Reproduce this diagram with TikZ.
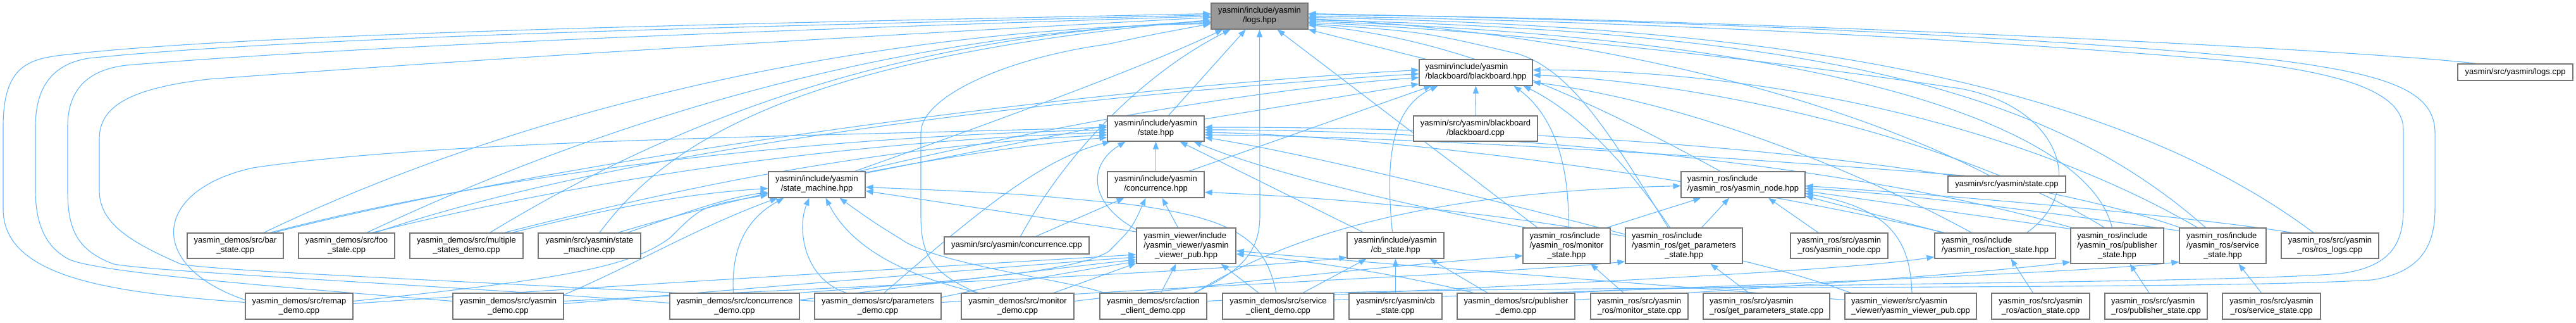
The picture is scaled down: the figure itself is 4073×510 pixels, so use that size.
\documentclass[tikz,border=0pt]{standalone}
\usepackage{fontspec}
\setmainfont{Liberation Sans}
\usetikzlibrary{arrows.meta,calc}
\definecolor{edgec}{HTML}{63B8FF}
\definecolor{boxc}{HTML}{777777}
\definecolor{rootc}{HTML}{999999}
\newcommand{\twol}[2]{\begin{tabular}{@{}l@{}}#1\\\multicolumn{1}{@{}c@{}}{#2}\end{tabular}}
\newcommand{\threel}[3]{\begin{tabular}{@{}l@{}}#1\\#2\\\multicolumn{1}{@{}c@{}}{#3}\end{tabular}}
\pgfdeclarelayer{bg}
\pgfdeclarelayer{paper}
\pgfsetlayers{paper,bg,main}
\begin{document}
\begin{tikzpicture}[x=1pt,y=-1pt,
  box/.style={draw=boxc, line width=1.2pt, fill=white, inner sep=0pt, text=black, font=\fontsize{13}{15}\selectfont},
  e/.style={draw=edgec, line width=1.1pt, -{Triangle[length=12pt,width=9pt]}}]
\begin{pgfonlayer}{paper}
\fill[white] (0,0) rectangle (4073,510);
\end{pgfonlayer}
\useasboundingbox (0,0) rectangle (4073,510);
% ---------- nodes ----------
\node[box, fill=rootc, minimum width=153pt, minimum height=41pt] (logs) at (1991.5,25.5) {\twol{yasmin/include/yasmin}{/logs.hpp}};
\node[box, minimum width=179pt, minimum height=41pt] (bb) at (2333.5,114.5) {\twol{yasmin/include/yasmin}{/blackboard/blackboard.hpp}};
\node[box, minimum width=196pt, minimum height=40pt] (bbc) at (2333,203) {\twol{yasmin/src/yasmin/blackboard}{/blackboard.cpp}};
\node[box, minimum width=153pt, minimum height=40pt] (state) at (1827.5,203) {\twol{yasmin/include/yasmin}{/state.hpp}};
\node[box, minimum width=153pt, minimum height=41pt] (conch) at (1827.5,291.5) {\twol{yasmin/include/yasmin}{/concurrence.hpp}};
\node[box, minimum width=153pt, minimum height=41pt] (sm) at (1291.5,291.5) {\twol{yasmin/include/yasmin}{/state\_machine.hpp}};
\node[box, minimum width=157pt, minimum height=56pt] (vpub) at (1875.5,388) {\threel{yasmin\_viewer/include}{/yasmin\_viewer/yasmin}{\_viewer\_pub.hpp}};
\node[box, minimum width=229pt, minimum height=27pt] (concc) at (1607.5,387.5) {yasmin/src/yasmin/concurrence.cpp};
\node[box, minimum width=153pt, minimum height=41pt] (cb) at (2206.5,387.5) {\twol{yasmin/include/yasmin}{/cb\_state.hpp}};
\node[box, minimum width=196pt, minimum height=41pt] (node) at (2756,291.5) {\twol{yasmin\_ros/include}{/yasmin\_ros/yasmin\_node.hpp}};
\node[box, minimum width=138pt, minimum height=56pt] (mon) at (2477,388) {\threel{yasmin\_ros/include}{/yasmin\_ros/monitor}{\_state.hpp}};
\node[box, minimum width=185pt, minimum height=56pt] (getp) at (2662.5,388) {\threel{yasmin\_ros/include}{/yasmin\_ros/get\_parameters}{\_state.hpp}};
\node[box, minimum width=154pt, minimum height=40pt] (nodec) at (2908,388) {\twol{yasmin\_ros/src/yasmin}{\_ros/yasmin\_node.cpp}};
\node[box, minimum width=186pt, minimum height=26pt] (statec) at (3173,291) {yasmin/src/yasmin/state.cpp};
\node[box, minimum width=191pt, minimum height=40pt] (act) at (3154.5,388) {\twol{yasmin\_ros/include}{/yasmin\_ros/action\_state.hpp}};
\node[box, minimum width=147pt, minimum height=56pt] (pub) at (3347.5,388) {\threel{yasmin\_ros/include}{/yasmin\_ros/publisher}{\_state.hpp}};
\node[box, minimum width=137pt, minimum height=56pt] (srv) at (3514.5,388) {\threel{yasmin\_ros/include}{/yasmin\_ros/service}{\_state.hpp}};
\node[box, minimum width=154pt, minimum height=40pt] (roslogs) at (3684,388) {\twol{yasmin\_ros/src/yasmin}{\_ros/ros\_logs.cpp}};
\node[box, minimum width=182pt, minimum height=26pt] (logsc) at (3977,114) {yasmin/src/yasmin/logs.cpp};
\node[box, minimum width=152pt, minimum height=40pt] (bar) at (372,388) {\twol{yasmin\_demos/src/bar}{\_state.cpp}};
\node[box, minimum width=152pt, minimum height=40pt] (foo) at (548,388) {\twol{yasmin\_demos/src/foo}{\_state.cpp}};
\node[box, minimum width=179pt, minimum height=40pt] (multi) at (737.5,388) {\twol{yasmin\_demos/src/multiple}{\_states\_demo.cpp}};
\node[box, minimum width=162pt, minimum height=40pt] (smc) at (932,388) {\twol{yasmin/src/yasmin/state}{\_machine.cpp}};
\node[box, minimum width=170pt, minimum height=41pt] (remap) at (473,483.5) {\twol{yasmin\_demos/src/remap}{\_demo.cpp}};
\node[box, minimum width=175pt, minimum height=41pt] (ydemo) at (803.5,483.5) {\twol{yasmin\_demos/src/yasmin}{\_demo.cpp}};
\node[box, minimum width=205pt, minimum height=41pt] (concd) at (1161.5,483.5) {\twol{yasmin\_demos/src/concurrence}{\_demo.cpp}};
\node[box, minimum width=200pt, minimum height=41pt] (paramd) at (1388,483.5) {\twol{yasmin\_demos/src/parameters}{\_demo.cpp}};
\node[box, minimum width=178pt, minimum height=41pt] (mond) at (1609,483.5) {\twol{yasmin\_demos/src/monitor}{\_demo.cpp}};
\node[box, minimum width=169pt, minimum height=41pt] (actd) at (1823.5,483.5) {\twol{yasmin\_demos/src/action}{\_client\_demo.cpp}};
\node[box, minimum width=176pt, minimum height=41pt] (srvd) at (2021,483.5) {\twol{yasmin\_demos/src/service}{\_client\_demo.cpp}};
\node[box, minimum width=147pt, minimum height=41pt] (cbc) at (2206.5,483.5) {\twol{yasmin/src/yasmin/cb}{\_state.cpp}};
\node[box, minimum width=186pt, minimum height=41pt] (pubd) at (2397,483.5) {\twol{yasmin\_demos/src/publisher}{\_demo.cpp}};
\node[box, minimum width=154pt, minimum height=41pt] (monc) at (2592,483.5) {\twol{yasmin\_ros/src/yasmin}{\_ros/monitor\_state.cpp}};
\node[box, minimum width=200pt, minimum height=41pt] (getpc) at (2793,483.5) {\twol{yasmin\_ros/src/yasmin}{\_ros/get\_parameters\_state.cpp}};
\node[box, minimum width=208pt, minimum height=41pt] (vpubc) at (3021,483.5) {\twol{yasmin\_viewer/src/yasmin}{\_viewer/yasmin\_viewer\_pub.cpp}};
\node[box, minimum width=155pt, minimum height=41pt] (actc) at (3226.5,483.5) {\twol{yasmin\_ros/src/yasmin}{\_ros/action\_state.cpp}};
\node[box, minimum width=162pt, minimum height=41pt] (pubc) at (3409,483.5) {\twol{yasmin\_ros/src/yasmin}{\_ros/publisher\_state.cpp}};
\node[box, minimum width=155pt, minimum height=41pt] (srvc) at (3591.5,483.5) {\twol{yasmin\_ros/src/yasmin}{\_ros/service\_state.cpp}};
% ---------- edges ----------
\begin{pgfonlayer}{bg}
% to logs.hpp
\draw[e] ($(bar.north)+(45,0)$) .. controls (850,160) and (1400,45) .. ($(logs.west)+(0,12)$);
\draw[e] ($(foo.north)+(32,0)$) .. controls (1000,170) and (1450,50) .. ($(logs.west)+(0,10)$);
\draw[e] ($(multi.north)+(37,0)$) .. controls (1100,170) and (1450,55) .. ($(logs.west)+(0,8)$);
\draw[e] ($(smc.north)+(16,0)$) .. controls (1050,230) and (1250,90) .. ($(logs.west)+(0,6)$);
\draw[e] ($(remap.west)+(0,-6)$) .. controls (180,462) and (5,440) .. (5,330) -- (5,200) .. controls (5,110) and (40,95) .. (90,88) .. controls (400,50) and (1300,35) .. ($(logs.west)+(0,-4)$);
\draw[e] ($(ydemo.west)+(0,-8)$) .. controls (400,450) and (160,430) .. (110,410) .. controls (70,390) and (56,350) .. (56,300) -- (56,200) .. controls (56,130) and (90,100) .. (140,92) .. controls (500,55) and (1300,40) .. ($(logs.west)+(0,-2)$);
\draw[e] ($(concd.west)+(0,-5)$) .. controls (700,450) and (250,430) .. (180,417) .. controls (120,395) and (107,360) .. (107,300) -- (107,200) .. controls (107,140) and (140,110) .. (200,103) .. controls (600,70) and (1300,45) .. (logs.west);
\draw[e] ($(paramd.west)+(0,-8)$) .. controls (900,450) and (350,430) .. (286,417) .. controls (200,380) and (157,350) .. (157,300) -- (157,220) .. controls (157,170) and (200,140) .. (330,125) .. controls (800,90) and (1400,55) .. ($(logs.west)+(0,2)$);
\draw[e] ($(mond.north)+(-64,0)$) .. controls (1470,430) and (1456,400) .. (1456,340) -- (1456,210) .. controls (1456,150) and (1600,90) .. (1750,70) .. controls (1820,55) .. ($(logs.west)+(0,12)$);
\draw[e] ($(sm.north)+(60,0)$) .. controls (1550,200) and (1800,110) .. ($(logs.south)+(-58,0)$);
\draw[e] ($(state.north)+(20,0)$) -- ($(logs.south)+(-22,0)$);
\draw[e] ($(concc.north)+(6,0)$) .. controls (1680,250) and (1800,120) .. ($(logs.south)+(-46,0)$);
\draw[e] ($(actd.north)+(64,0)$) .. controls (1960,430) and (1992,400) .. (1992,340) -- (logs.south);
\draw[e] ($(mon.north)+(-46,0)$) -- ($(logs.south)+(28,0)$);
\draw[e] ($(bb.north)+(-79,0)$) -- (logs.south east);
\draw[e] ($(getp.north)+(-25,0)$) .. controls (2540,200) and (2480,110) .. (2400,85) .. controls (2250,50) .. ($(logs.east)+(0,12)$);
\draw[e] ($(act.north)+(50,0)$) .. controls (3300,300) and (3260,170) .. (3100,140) .. controls (2700,80) and (2300,45) .. ($(logs.east)+(0,10)$);
\draw[e] ($(pub.north)+(-8,0)$) .. controls (3300,200) and (2900,60) .. ($(logs.east)+(0,8)$);
\draw[e] ($(srv.north)+(-27,0)$) .. controls (3250,150) and (2900,50) .. ($(logs.east)+(0,6)$);
\draw[e] ($(statec.north)+(-27,0)$) .. controls (2900,150) and (2500,50) .. ($(logs.east)+(0,4)$);
\draw[e] ($(roslogs.north)+(-26,0)$) .. controls (3300,100) and (2700,40) .. ($(logs.east)+(0,2)$);
\draw[e] ($(logsc.north)+(-61,0)$) .. controls (3700,75) and (2600,25) .. ($(logs.east)+(0,-2)$);
\draw[e] ($(node.north)+(-36,0)$) .. controls (2500,150) and (2300,60) .. ($(logs.east)+(0,14)$);
\draw[e] ($(pubd.north)+(88,0)$) .. controls (2700,447) and (3500,448) .. (3700,432) .. controls (3775,422) and (3800,390) .. (3800,330) -- (3800,205) .. controls (3800,150) and (3720,118) .. (3550,98) .. controls (3000,50) and (2400,30) .. (logs.east);
\draw[e] ($(srvd.north)+(86,0)$) .. controls (2500,450) and (3500,458) .. (3750,442) .. controls (3830,430) and (3850,385) .. (3850,330) -- (3850,210) .. controls (3850,145) and (3780,118) .. (3600,95) .. controls (3100,45) and (2400,28) .. ($(logs.east)+(0,-4)$);
% to blackboard.hpp
\draw[e] ($(state.east)+(0,-15)$) -- ($(bb.west)+(0,18)$);
\draw[e] ($(sm.north east)+(-10,0)$) .. controls (1700,190) and (2000,140) .. ($(bb.west)+(0,8)$);
\draw[e] ($(foo.north)+(45,0)$) .. controls (1000,230) and (1700,150) .. ($(bb.west)+(0,2)$);
\draw[e] ($(bar.north)+(60,0)$) .. controls (900,250) and (1700,140) .. ($(bb.west)+(0,-4)$);
\draw[e] ($(conch.north)+(52,0)$) -- ($(bb.south)+(-70,0)$);
\draw[e] ($(cb.north)+(-5,0)$) .. controls (2190,250) and (2200,170) .. ($(bb.south)+(-60,0)$);
\draw[e] ($(mon.north)+(3,0)$) .. controls (2482,230) and (2440,170) .. ($(bb.south)+(60,0)$);
\draw[e] ($(getp.north)+(-22,0)$) .. controls (2560,240) and (2480,170) .. ($(bb.south)+(75,0)$);
\draw[e] (bbc.north) -- (bb.south);
\draw[e] ($(act.north)+(-37,0)$) .. controls (2900,250) and (2650,160) .. ($(bb.east)+(0,15)$);
\draw[e] ($(pub.north)+(-20,0)$) .. controls (3100,220) and (2700,130) .. ($(bb.east)+(0,4)$);
\draw[e] ($(srv.north)+(-40,0)$) .. controls (3200,200) and (2800,110) .. ($(bb.east)+(0,-4)$);
% to state.hpp
\draw[e] ($(sm.north east)+(0,3)$) -- ($(state.west)+(0,-5)$);
\draw[e] (conch.north) -- (state.south);
\draw[e] ($(vpub.north west)+(0,3)$) .. controls (1720,320) and (1720,260) .. ($(state.south)+(-48,0)$);
\draw[e] ($(cb.north)+(-52,0)$) -- ($(state.south)+(38,0)$);
\draw[e] ($(mon.north west)+(5,0)$) .. controls (2200,320) and (2000,270) .. ($(state.south)+(60,0)$);
\draw[e] ($(getp.west)+(0,-18)$) .. controls (2300,300) and (2050,240) .. ($(state.east)+(0,14)$);
\draw[e] ($(act.north)+(-80,0)$) .. controls (2700,280) and (2200,215) .. ($(state.east)+(0,6)$);
\draw[e] ($(pub.north west)+(2,0)$) .. controls (2900,250) and (2300,205) .. ($(state.east)+(0,2)$);
\draw[e] ($(srv.north west)+(2,0)$) .. controls (3100,240) and (2400,200) .. ($(state.east)+(0,-2)$);
\draw[e] ($(statec.north west)+(28,0)$) .. controls (2700,245) and (2200,215) .. ($(state.east)+(0,10)$);
\draw[e] ($(bar.north)+(55,0)$) .. controls (800,270) and (1300,215) .. ($(state.west)+(0,2)$);
\draw[e] ($(foo.north)+(40,0)$) .. controls (900,290) and (1300,225) .. ($(state.west)+(0,6)$);
\draw[e] ($(multi.north)+(60,0)$) .. controls (1100,290) and (1400,230) .. ($(state.west)+(0,10)$);
\draw[e] ($(smc.north)+(45,0)$) .. controls (1200,300) and (1500,240) .. ($(state.west)+(0,14)$);
\draw[e] ($(remap.west)+(0,-10)$) .. controls (230,420) and (240,300) .. (400,265) .. controls (700,220) and (1300,215) .. ($(state.west)+(0,-2)$);
\draw[e] ($(paramd.north)+(10,0)$) .. controls (1550,330) and (1650,250) .. ($(state.south west)+(5,0)$);
% to state_machine.hpp
\draw[e] ($(smc.north)+(60,0)$) .. controls (1100,330) and (1150,312) .. ($(sm.west)+(0,12)$);
\draw[e] ($(multi.north)+(72,0)$) .. controls (1000,320) and (1100,305) .. ($(sm.west)+(0,6)$);
\draw[e] ($(remap.east)+(0,-8)$) .. controls (900,440) and (1000,420) .. (1060,375) .. controls (1110,325) .. ($(sm.west)+(0,16)$);
\draw[e] ($(ydemo.north east)+(0,3)$) .. controls (1000,420) and (1100,360) .. ($(sm.south west)+(15,0)$);
\draw[e] ($(concd.north)+(-2,0)$) .. controls (1155,380) and (1190,340) .. ($(sm.south west)+(25,0)$);
\draw[e] ($(paramd.north)+(-50,0)$) .. controls (1270,440) and (1260,360) .. ($(sm.south)+(-12,0)$);
\draw[e] ($(mond.north)+(-62,0)$) .. controls (1450,440) and (1350,400) .. ($(sm.south)+(14,0)$);
\draw[e] ($(actd.north)+(-78,0)$) .. controls (1700,445) and (1500,420) .. (1433,383) .. controls (1380,350) .. ($(sm.south)+(36,0)$);
\draw[e] ($(vpub.west)+(0,-22)$) -- ($(sm.east)+(0,10)$);
\draw[e] ($(srvd.north)+(-3,0)$) .. controls (2000,380) and (1960,345) .. (1780,322) .. controls (1600,305) .. ($(sm.east)+(0,4)$);
% to concurrence.hpp
\draw[e] ($(vpub.north)+(-13,0)$) -- ($(conch.south)+(10,0)$);
\draw[e] ($(concc.north)+(30,0)$) -- ($(conch.south)+(-50,0)$);
\draw[e] ($(concd.north east)+(-2,0)$) .. controls (1500,445) and (1700,430) .. (1753,397) .. controls (1790,360) .. ($(conch.south)+(-16,0)$);
\draw[e] ($(vpubc.north west)+(10,0)$) .. controls (2700,380) and (2300,320) .. ($(conch.east)+(0,12)$);
% to yasmin_viewer_pub.hpp
\draw[e] ($(remap.east)+(0,-4)$) .. controls (900,455) and (1500,420) .. ($(vpub.west)+(0,14)$);
\draw[e] ($(ydemo.east)+(0,-4)$) .. controls (1200,455) and (1600,420) .. ($(vpub.west)+(0,18)$);
\draw[e] ($(concd.east)+(0,-10)$) .. controls (1500,445) and (1700,420) .. ($(vpub.west)+(0,22)$);
\draw[e] ($(paramd.east)+(0,-14)$) .. controls (1600,445) and (1720,425) .. ($(vpub.west)+(0,25)$);
\draw[e] ($(mond.north)+(57,0)$) -- ($(vpub.south west)+(0,-1)$);
\draw[e] ($(actd.north)+(12,0)$) -- ($(vpub.south)+(-16,0)$);
\draw[e] ($(srvd.north)+(-31,0)$) -- ($(vpub.south)+(55,0)$);
\draw[e] ($(pubd.north)+(-67,0)$) .. controls (2200,430) and (2050,410) .. ($(vpub.east)+(0,13)$);
\draw[e] ($(vpubc.west)+(0,-10)$) .. controls (2500,440) and (2100,410) .. ($(vpub.east)+(0,8)$);
% to cb_state.hpp
\draw[e] (cbc.north) -- (cb.south);
\draw[e] ($(srvd.north)+(39,0)$) -- ($(cb.south)+(-46,0)$);
\draw[e] ($(pubd.north)+(-45,0)$) -- ($(cb.south)+(54,0)$);
\draw[e] ($(ydemo.east)+(0,-8)$) .. controls (1500,445) and (1900,430) .. ($(cb.south west)+(0,-2)$);
% to yasmin_node.hpp
\draw[e] ($(nodec.north)+(-33,0)$) -- ($(node.south)+(40,0)$);
\draw[e] ($(mon.north east)+(-6,0)$) -- ($(node.south west)+(32,0)$);
\draw[e] ($(getp.north)+(28,0)$) -- ($(node.south)+(-22,0)$);
\draw[e] ($(act.north)+(-82,0)$) -- ($(node.east)+(0,18)$);
\draw[e] ($(pub.north west)+(0,2)$) -- ($(node.east)+(0,10)$);
\draw[e] ($(srv.north west)+(0,5)$) .. controls (3200,330) and (3000,305) .. ($(node.east)+(0,6)$);
\draw[e] ($(vpubc.north)+(2,0)$) .. controls (3020,380) and (2990,330) .. ($(node.east)+(0,14)$);
\draw[e] ($(actd.north)+(66,0)$) .. controls (2100,330) and (2400,300) .. ($(node.west)+(0,2)$);
\draw[e] ($(roslogs.north west)+(18,0)$) .. controls (3450,340) and (3100,310) .. ($(node.east)+(0,2)$);
% ros states
\draw[e] ($(monc.north)+(-25,0)$) -- ($(mon.south)+(38,0)$);
\draw[e] ($(mond.east)+(0,-8)$) .. controls (2000,440) and (2250,415) .. ($(mon.west)+(0,16)$);
\draw[e] ($(getpc.north)+(-28,0)$) -- ($(getp.south)+(42,0)$);
\draw[e] ($(paramd.east)+(0,-6)$) .. controls (1900,450) and (2400,430) .. ($(getp.west)+(0,25)$);
\draw[e] ($(actc.north)+(-12,0)$) -- ($(act.south)+(25,0)$);
\draw[e] ($(actd.east)+(0,-8)$) .. controls (2400,450) and (2900,430) .. ($(act.south west)+(0,-3)$);
\draw[e] ($(pubc.north)+(-11,0)$) -- ($(pub.south)+(20,0)$);
\draw[e] ($(pubd.east)+(0,-10)$) .. controls (2800,455) and (3150,430) .. ($(pub.south west)+(0,-3)$);
\draw[e] ($(srvc.north)+(-16,0)$) -- ($(srv.south)+(25,0)$);
\draw[e] ($(srvd.east)+(0,-10)$) .. controls (2700,455) and (3300,430) .. ($(srv.south west)+(0,-3)$);
\end{pgfonlayer}
\end{tikzpicture}
\end{document}
